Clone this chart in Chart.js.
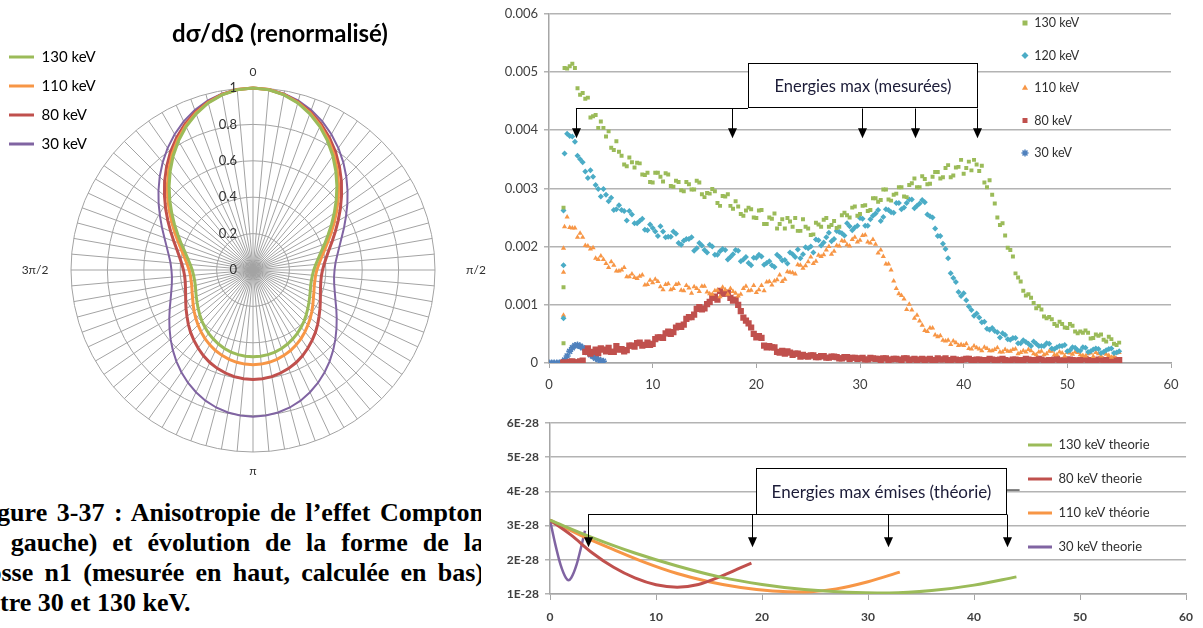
<!DOCTYPE html>
<html>
<head>
<meta charset="utf-8">
<script src="https://cdn.jsdelivr.net/npm/chart.js@4.4.0/dist/chart.umd.min.js"></script>
<style>
  body { margin: 0; width: 1203px; height: 628px; overflow: hidden; background: #fff; position: relative; }
  canvas { position: absolute; }
  #polar { left: 0; top: 0; }
  #counts { left: 490px; top: 0; }
  #theory { left: 490px; top: 400px; }
  #caption { position: absolute; left: 0; top: 498px; width: 481px; height: 130px; overflow: hidden; }
  #caption p { margin: 0; position: relative; left: -26px; width: 510px; white-space: nowrap;
               font: bold 26px/30px "Liberation Serif", "Times New Roman", serif; color: #000; }
  #caption p.j { white-space: normal; text-align: justify; text-align-last: justify; }
</style>
</head>
<body>
<canvas id="polar" width="490" height="480"></canvas>
<canvas id="counts" width="713" height="400"></canvas>
<canvas id="theory" width="713" height="228"></canvas>
<div id="caption">
  <p class="j">Figure 3-37 : Anisotropie de l’effet Compton</p>
  <p class="j">(à gauche) et évolution de la forme de la</p>
  <p class="j">bosse n1 (mesurée en haut, calculée en bas)</p>
  <p>entre 30 et 130 keV.</p>
</div>
<script>
// ---- polar plot: dσ/dΩ renormalised, one value per 5° spoke (0 at top, clockwise)
const quarterLabels = ['0', 'π/2', 'π', '3π/2'];
const spokes = Array.from({length: 72}, (_, i) => i % 18 === 0 ? quarterLabels[i / 18] : '');

const ks130 = [1, .994, .977, .950, .913, .869, .819, .765, .708, .652, .597, .545, .498, .455, .419, .388, .364, .346, .334, .328, .326, .328, .335, .344, .355, .368, .382, .397, .411, .425, .437, .449, .459, .467, .472, .476, .477,
  .476, .472, .467, .459, .449, .437, .425, .411, .397, .382, .368, .355, .344, .335, .328, .326, .328, .334, .346, .364, .388, .419, .455, .498, .545, .597, .652, .708, .765, .819, .869, .913, .950, .977, .994];
const ks110 = [1, .995, .979, .953, .918, .875, .827, .775, .720, .665, .612, .561, .514, .472, .435, .405, .381, .363, .351, .345, .345, .348, .356, .366, .380, .395, .411, .427, .444, .460, .475, .488, .499, .508, .515, .519, .520,
  .519, .515, .508, .499, .488, .475, .460, .444, .427, .411, .395, .380, .366, .356, .348, .345, .345, .351, .363, .381, .405, .435, .472, .514, .561, .612, .665, .720, .775, .827, .875, .918, .953, .979, .995];
const ks80 = [1, .995, .980, .956, .924, .885, .840, .791, .739, .687, .635, .586, .540, .499, .463, .433, .410, .393, .382, .377, .378, .384, .394, .408, .425, .443, .464, .485, .505, .525, .544, .561, .575, .586, .595, .600, .602,
  .600, .595, .586, .575, .561, .544, .525, .505, .485, .464, .443, .425, .408, .394, .384, .378, .377, .382, .393, .410, .433, .463, .499, .540, .586, .635, .687, .739, .791, .840, .885, .924, .956, .980, .995];
const ks30 = [1, .996, .983, .963, .935, .901, .861, .818, .772, .725, .678, .633, .590, .552, .518, .491, .470, .455, .448, .447, .453, .465, .482, .505, .531, .560, .591, .623, .655, .686, .715, .741, .764, .782, .795, .803, .806,
  .803, .795, .782, .764, .741, .715, .686, .655, .623, .591, .560, .531, .505, .482, .465, .453, .447, .448, .455, .470, .491, .518, .552, .590, .633, .678, .725, .772, .818, .861, .901, .935, .963, .983, .996];

// ---- measured spectra (counts, in units of 1e-5); first three points are the edge column at 1.4 keV
const keV = [1.4, 1.4, 1.4,
  1.5, 2, 2.5, 3, 3.5, 4, 4.5, 5, 5.5, 6, 6.5, 7, 7.5, 8, 8.5, 9, 9.5, 10,
  10.5, 11, 11.5, 12, 12.5, 13, 13.5, 14, 14.5, 15, 15.5, 16, 16.5, 17, 17.5, 18, 18.5, 19, 19.5, 20,
  20.5, 21, 21.5, 22, 22.5, 23, 23.5, 24, 24.5, 25, 25.5, 26, 26.5, 27, 27.5, 28, 28.5, 29, 29.5, 30,
  30.5, 31, 31.5, 32, 32.5, 33, 33.5, 34, 34.5, 35, 35.5, 36, 36.5, 37, 37.5, 38, 38.5, 39, 39.5, 40,
  40.5, 41, 41.5, 42, 42.5, 43, 43.5, 44, 44.5, 45, 45.5, 46, 46.5, 47, 47.5, 48, 48.5, 49, 49.5, 50,
  50.5, 51, 51.5, 52, 52.5, 53, 53.5, 54, 54.5, 55];
const meas130 = [34, 130, 267,
  507, 510, 507, 461, 454, 422, 426, 415, 389, 370, 381, 356, 338, 345, 344, 324, 327, 310,
  327, 312, 324, 303, 311, 295, 307, 298, 310, 285, 291, 295, 270, 286, 270, 278, 256, 262, 264, 249,
  263, 239, 248, 231, 247, 249, 234, 227, 247, 231, 221, 238, 246, 234, 244, 234, 258, 250, 269, 256,
  271, 263, 283, 280, 298, 279, 291, 302, 285, 309, 302, 321, 307, 320, 328, 319, 340, 322, 337, 325,
  346, 349, 330, 310, 314, 274, 237, 219, 194, 154, 140, 116, 112, 94, 92, 77, 75, 64, 67, 60,
  64, 51, 52, 52, 43, 47, 40, 45, 33, 35];
const meas120 = [77, 168, 262,
  360, 390, 380, 350, 329, 331, 306, 286, 289, 284, 264, 263, 245, 255, 240, 248, 228, 232,
  218, 226, 217, 226, 206, 210, 213, 193, 206, 194, 203, 186, 192, 194, 182, 194, 175, 182, 168, 181,
  183, 172, 168, 186, 176, 171, 187, 195, 187, 197, 190, 211, 207, 224, 213, 225, 219, 235, 233, 249,
  236, 247, 257, 244, 264, 259, 275, 264, 275, 281, 270, 280, 255, 250, 218, 205, 180, 146, 122, 120,
  97, 81, 78, 71, 57, 55, 44, 48, 40, 43, 34, 36, 29, 33, 29, 34, 25, 27, 29, 20,
  27, 22, 27, 19, 23, 24, 19, 24, 17, 20];
const meas110 = [82, 156, 197,
  234, 233, 232, 223, 202, 196, 180, 184, 171, 174, 158, 160, 148, 153, 145, 151, 135, 138,
  140, 126, 136, 128, 136, 124, 129, 131, 123, 132, 119, 124, 114, 126, 128, 120, 118, 132, 125, 121,
  133, 139, 134, 143, 140, 157, 155, 169, 163, 174, 171, 185, 186, 200, 192, 201, 209, 201, 216, 211,
  220, 206, 204, 194, 170, 160, 128, 116, 92, 91, 82, 65, 54, 60, 45, 39, 39, 38, 30, 30,
  25, 29, 24, 27, 21, 23, 19, 23, 20, 24, 18, 19, 21, 14, 20, 16, 20, 14, 17, 18,
  15, 18, 13, 16, 11, 16, 17, 13, 12, 18];
const meas80 = [0, 1, 0,
  0, 2, 1, 3, 19, 16, 23, 25, 20, 19, 29, 24, 22, 30, 34, 30, 35, 33,
  44, 43, 54, 53, 64, 66, 79, 83, 96, 94, 105, 114, 124, 119, 112, 109, 89, 73, 61, 44,
  43, 27, 27, 19, 21, 20, 14, 16, 14, 11, 13, 10, 12, 9, 11, 8, 10, 7, 9, 8,
  6, 9, 7, 5, 8, 6, 7, 5, 8, 6, 4, 7, 6, 5, 8, 6, 4, 7, 5, 6,
  7, 4, 6, 5, 7, 4, 6, 5, 3, 6, 5, 7, 4, 5, 6, 3, 5, 7, 4, 6,
  5, 4, 6, 5, 3, 6, 5, 4, 6, 5];

// second pass of readings, between the channels above
const keVb = [1.75, 2.25, 2.75, 3.25, 3.75, 4.25, 4.75, 5.25, 5.75, 6.25, 6.75, 7.25, 7.75, 8.25, 8.75, 9.25, 9.75, 10.25, 10.75,
  11.25, 11.75, 12.25, 12.75, 13.25, 13.75, 14.25, 14.75, 15.25, 15.75, 16.25, 16.75, 17.25, 17.75, 18.25, 18.75, 19.25, 19.75, 20.25, 20.75,
  21.25, 21.75, 22.25, 22.75, 23.25, 23.75, 24.25, 24.75, 25.25, 25.75, 26.25, 26.75, 27.25, 27.75, 28.25, 28.75, 29.25, 29.75, 30.25, 30.75,
  31.25, 31.75, 32.25, 32.75, 33.25, 33.75, 34.25, 34.75, 35.25, 35.75, 36.25, 36.75, 37.25, 37.75, 38.25, 38.75, 39.25, 39.75, 40.25, 40.75,
  41.25, 41.75, 42.25, 42.75, 43.25, 43.75, 44.25, 44.75, 45.25, 45.75, 46.25, 46.75, 47.25, 47.75, 48.25, 48.75, 49.25, 49.75, 50.25, 50.75,
  51.25, 51.75, 52.25, 52.75, 53.25, 53.75, 54.25, 54.75];
const meas130b = [506, 514, 472, 464, 456, 424, 404, 404, 398, 366, 363, 341, 353, 336, 343, 323, 311, 327, 320,
  326, 304, 313, 297, 311, 298, 313, 290, 292, 299, 275, 287, 290, 265, 269, 253, 267, 250, 262, 239,
  250, 257, 239, 231, 243, 249, 227, 234, 220, 241, 234, 249, 237, 232, 254, 254, 267, 253, 270, 261,
  283, 277, 298, 281, 289, 302, 286, 306, 317, 302, 316, 308, 328, 317, 335, 319, 336, 349, 335, 331,
  341, 339, 302, 289, 250, 240, 198, 183, 147, 124, 118, 103, 98, 80, 79, 67, 71, 61, 67, 54,
  54, 56, 42, 49, 49, 37, 41, 31];
const meas120b = [394, 389, 356, 345, 318, 320, 299, 299, 278, 263, 271, 261, 261, 240, 244, 229, 238, 226, 235,
  216, 217, 222, 203, 213, 216, 197, 202, 190, 200, 186, 196, 178, 187, 193, 178, 172, 181, 186, 169,
  175, 165, 182, 177, 190, 182, 180, 199, 200, 212, 202, 216, 209, 227, 223, 240, 228, 236, 248, 236,
  253, 263, 251, 263, 258, 275, 267, 281, 266, 274, 276, 252, 231, 218, 196, 154, 139, 115, 108, 91,
  85, 70, 59, 60, 53, 51, 41, 43, 34, 39, 33, 37, 29, 29, 33, 24, 29, 31, 22, 26,
  21, 26, 20, 25, 17, 22, 25, 18];
const meas110b = [251, 232, 216, 216, 201, 198, 178, 178, 164, 168, 158, 164, 148, 147, 149, 134, 142, 144, 131,
  135, 126, 135, 125, 133, 120, 128, 132, 122, 118, 125, 130, 118, 123, 115, 128, 124, 133, 126, 124,
  140, 141, 151, 144, 156, 153, 168, 167, 182, 175, 183, 194, 187, 202, 210, 203, 212, 208, 219, 208,
  212, 189, 183, 170, 141, 119, 110, 101, 77, 72, 56, 60, 48, 47, 38, 32, 35, 32, 33, 24,
  26, 21, 25, 21, 26, 19, 20, 23, 16, 21, 23, 16, 19, 14, 20, 14, 19, 12, 17, 19,
  14, 12, 17, 18, 12, 15, 10, 17];
const meas80b = [0, 3, 1, 4, 25, 19, 17, 23, 26, 19, 23, 20, 30, 28, 35, 31, 31, 41, 44,
  51, 50, 61, 62, 76, 79, 93, 92, 101, 112, 109, 119, 121, 107, 100, 78, 68, 50, 46, 30,
  29, 27, 18, 16, 18, 16, 11, 12, 13, 10, 12, 9, 11, 10, 8, 10, 9, 7, 9, 6, 8,
  7, 8, 5, 7, 6, 8, 5, 7, 6, 4, 7, 5, 6, 8, 5, 6, 4, 7, 5, 6,
  5, 3, 6, 5, 7, 4, 6, 5, 4, 6, 5, 7, 4, 5, 6, 4, 5, 6, 4, 5,
  7, 5, 4, 6, 5, 4, 5];
const lowKeV = [0, 0.25, 0.5, 0.75, 1, 1.25, 1.5, 1.75, 2, 2.25, 2.5, 2.75, 3, 3.25, 3.5, 3.75, 4, 4.25, 4.5, 4.75, 5, 5.25];
const meas30 = [0, 0, 0, 0, 0, 1, 5, 12, 20, 26, 30, 31, 29, 26, 22, 18, 14, 11, 8, 6, 4, 3];
const measuredMaxKeV = [2.6, 17.7, 30.2, 35.3, 41.3];

// ---- theoretical curves (units of 1E-28)
const thE130 = [0, 4, 8, 12, 16, 20, 24, 28, 32, 36, 40, 44];
const th130 = [3.16, 2.65, 2.2, 1.82, 1.5, 1.28, 1.13, 1.05, 1.03, 1.1, 1.26, 1.5];
const thE80 = [0, 2, 4, 6, 8, 10, 12, 14, 16, 18, 19];
const th80 = [3.16, 2.72, 2.2, 1.78, 1.47, 1.27, 1.2, 1.28, 1.5, 1.77, 1.9];
const thE110 = [0, 3, 6, 9, 12, 15, 18, 21, 24, 27, 30, 33];
const th110 = [3.16, 2.7, 2.3, 1.92, 1.6, 1.36, 1.19, 1.09, 1.06, 1.15, 1.36, 1.64];
const thE30 = [0, 0.5, 1, 1.5, 1.75, 2, 2.5, 3, 3.3];
const th30 = [3.16, 2.45, 1.85, 1.47, 1.4, 1.47, 1.85, 2.45, 2.85];
const theoryMaxKeV = [3.6, 19.1, 31.9, 43.1];

const GREEN = '#9BBB59', ORANGE = '#F79646', RED = '#C0504D', PURPLE = '#8064A2', AQUA = '#4BACC6', BLUE = '#4F81BD';
Chart.defaults.font.family = 'Lato';
Chart.defaults.color = '#404040';

const pts = (xs, ys, k) => xs.map((x, i) => ({x: x, y: ys[i] * k}));
const lineLegend = chart => Chart.defaults.plugins.legend.labels.generateLabels(chart).map(l => Object.assign(l, {lineWidth: 0}));

// moves legend / title boxes where the original figure has them
const placeBoxes = {
  id: 'placeBoxes',
  beforeDraw(chart, args, opts) {
    if (opts.legend && chart.legend) {
      chart.legend.left = opts.legend[0];
      chart.legend.top = opts.legend[1];
      chart.legend.bottom = opts.legend[1] + 1000;
    }
    if (opts.titleX !== undefined && chart.titleBlock) {
      const w = chart.titleBlock.right - chart.titleBlock.left;
      chart.titleBlock.left = opts.titleX - w / 2;
      chart.titleBlock.right = opts.titleX + w / 2;
    }
  }
};

// text box with the arrows pointing at the max energies
const maxMarks = {
  id: 'maxMarks',
  afterDatasetsDraw(chart, args, o) {
    if (!o.arrows) return;
    const {ctx, scales: {x, y}} = chart;
    const px = v => x.getPixelForValue(v), py = v => y.getPixelForValue(v);
    ctx.save();
    ctx.strokeStyle = '#000';
    ctx.fillStyle = '#000';
    ctx.lineWidth = 1;
    const barY = Math.round(py(o.barY)) + 0.5, tip = py(o.tipY);
    ctx.beginPath();
    ctx.moveTo(px(o.arrows[0]), barY);
    ctx.lineTo(px(o.barEnd), barY);
    if (o.stub) {
      ctx.moveTo(px(o.box[1]), py(o.stub[1]));
      ctx.lineTo(px(o.stub[0]), py(o.stub[1]));
    }
    ctx.stroke();
    o.arrows.forEach(e => {
      const X = Math.round(px(e)) + 0.5;
      ctx.beginPath();
      ctx.moveTo(X, barY);
      ctx.lineTo(X, tip - 9);
      ctx.stroke();
      ctx.beginPath();
      ctx.moveTo(X - 4.5, tip - 10);
      ctx.lineTo(X + 4.5, tip - 10);
      ctx.lineTo(X, tip);
      ctx.closePath();
      ctx.fill();
    });
    const bx = Math.round(px(o.box[0])) + 0.5, bw = Math.round(px(o.box[1]) - px(o.box[0]));
    const by = Math.round(py(o.box[3])) + 0.5, bh = Math.round(py(o.box[2]) - py(o.box[3]));
    ctx.fillStyle = '#fff';
    ctx.fillRect(bx, by, bw, bh);
    ctx.strokeRect(bx, by, bw, bh);
    ctx.fillStyle = '#1c1c38';
    ctx.font = o.font;
    ctx.textAlign = 'center';
    ctx.textBaseline = 'middle';
    ctx.fillText(o.text, bx + bw / 2, by + bh / 2 + 1);
    ctx.restore();
  }
};

// radial tick labels and the 0, π/2, π, 3π/2 labels of the polar plot
const polarText = {
  id: 'polarText',
  afterDraw(chart) {
    const r = chart.scales.r, ctx = chart.ctx;
    if (!r) return;
    const gaps = [16, 41, 19, 36];
    ctx.save();
    ctx.fillStyle = '#303030';
    ctx.textBaseline = 'middle';
    ctx.font = '13px Lato';
    ctx.textAlign = 'right';
    r.ticks.forEach(t => ctx.fillText(String(t.value), r.xCenter - 16, r.yCenter - r.getDistanceFromCenterForValue(t.value)));
    ctx.font = '12px Lato';
    ctx.textAlign = 'center';
    spokes.forEach((lab, i) => {
      if (!lab) return;
      const p = r.getPointPosition(i, r.drawingArea + gaps[i / 18]);
      ctx.fillText(lab, p.x, p.y);
    });
    ctx.restore();
  }
};

const radarSet = (label, data, color, width) => ({
  label: label, data: data, borderColor: color, backgroundColor: color,
  borderWidth: width, pointRadius: 0, fill: false, tension: 0
});

new Chart(document.getElementById('polar'), {
  type: 'radar',
  data: {
    labels: spokes,
    datasets: [
      radarSet('130 keV', ks130, GREEN, 3),
      radarSet('110 keV', ks110, ORANGE, 3),
      radarSet('80 keV', ks80, RED, 3),
      radarSet('30 keV', ks30, PURPLE, 2)
    ]
  },
  options: {
    responsive: false,
    animation: false,
    layout: { padding: { left: 71, right: 55, top: 0, bottom: 28 } },
    scales: {
      r: {
        min: 0, max: 1,
        ticks: { stepSize: 0.2, display: false },
        grid: { circular: true, color: '#a3a3a3' },
        angleLines: { color: '#a3a3a3' },
        pointLabels: { display: false }
      }
    },
    plugins: {
      title: {
        display: true, text: 'dσ/dΩ (renormalisé)', color: '#000',
        font: { family: 'Lato', size: 24, weight: 'bold' },
        padding: { top: 19.6, bottom: 39.6 }
      },
      legend: {
        position: 'chartArea', align: 'start',
        labels: { boxWidth: 25, boxHeight: 3, padding: 14, color: '#000', font: { size: 15 }, generateLabels: lineLegend }
      },
      tooltip: { enabled: false },
      placeBoxes: { legend: [-5, 35.5], titleX: 280 }
    }
  },
  plugins: [placeBoxes, polarText]
});

const scatterSet = (label, parts, color, style, radius, bw) => ({
  label: label, data: parts.flatMap(p => pts(p[0], p[1], 1e-5)), pointStyle: style, pointRadius: radius,
  backgroundColor: color, borderColor: color, borderWidth: bw
});

new Chart(document.getElementById('counts'), {
  type: 'scatter',
  data: {
    datasets: [
      scatterSet('130 keV', [[keV, meas130], [keVb, meas130b]], GREEN, 'rect', 2.8, 0),
      scatterSet('120 keV', [[keV, meas120], [keVb, meas120b]], AQUA, 'rectRot', 3, 0),
      scatterSet('110 keV', [[keV, meas110], [keVb, meas110b]], ORANGE, 'triangle', 3, 0),
      scatterSet('80 keV', [[keV, meas80], [keVb, meas80b]], RED, 'rect', 4.4, 0),
      scatterSet('30 keV', [[lowKeV, meas30]], BLUE, 'star', 3.5, 1.5)
    ]
  },
  options: {
    responsive: false,
    animation: false,
    layout: { padding: { left: 0, right: 32, top: 13, bottom: 0 } },
    scales: {
      x: {
        type: 'linear', min: 0, max: 60,
        ticks: { stepSize: 10, padding: 9, font: { size: 13 } },
        grid: { drawOnChartArea: false, tickLength: 5, color: '#a6a6a6' },
        border: { color: '#a6a6a6', width: 1.5 },
        afterFit: s => { s.height = 37; }
      },
      y: {
        min: 0, max: 0.006,
        ticks: { stepSize: 0.001, padding: 6, font: { size: 13 }, callback: v => v === 0 ? '0' : v.toFixed(3) },
        grid: { color: '#b3b3b3', lineWidth: 1.5, tickLength: 5 },
        border: { color: '#a6a6a6', width: 1.5 },
        afterFit: s => { s.width = 59; }
      }
    },
    plugins: {
      legend: {
        position: 'chartArea', align: 'start',
        labels: { usePointStyle: true, boxWidth: 6, boxHeight: 5, padding: 20, color: '#303030', font: { size: 12.5 } }
      },
      tooltip: { enabled: false },
      placeBoxes: { legend: [512, -3.25] },
      maxMarks: {
        arrows: measuredMaxKeV, barY: 0.00439, barEnd: 19.2, tipY: 0.00386,
        box: [19.2, 41.3, 0.00441, 0.00516], text: 'Energies max (mesurées)', font: '16.5px Lato'
      }
    }
  },
  plugins: [placeBoxes, maxMarks]
});

const theorySet = (label, xs, ys, color, width) => ({
  label: label, data: pts(xs, ys, 1), showLine: true, borderColor: color, backgroundColor: color,
  borderWidth: width, pointRadius: 0, cubicInterpolationMode: 'monotone'
});

new Chart(document.getElementById('theory'), {
  type: 'scatter',
  data: {
    datasets: [
      theorySet('130 keV theorie', thE130, th130, GREEN, 3),
      theorySet('80 keV theorie', thE80, th80, RED, 3),
      theorySet('110 keV théorie', thE110, th110, ORANGE, 3),
      theorySet('30 keV theorie', thE30, th30, PURPLE, 2.5)
    ]
  },
  options: {
    responsive: false,
    animation: false,
    layout: { padding: { left: 0, right: 16, top: 23, bottom: 0 } },
    scales: {
      x: {
        type: 'linear', min: 0, max: 60,
        ticks: { stepSize: 10, padding: 10, font: { size: 12, weight: 'bold' } },
        grid: { drawOnChartArea: false, tickLength: 6, color: '#a6a6a6' },
        border: { color: '#a6a6a6', width: 1.5 },
        afterFit: s => { s.height = 34; }
      },
      y: {
        min: 1, max: 6,
        ticks: { stepSize: 1, padding: 6, font: { size: 12, weight: 'bold' }, callback: v => v + 'E-28' },
        grid: { color: '#b3b3b3', lineWidth: 1.5, tickLength: 5 },
        border: { color: '#a6a6a6', width: 1.5 },
        afterFit: s => { s.width = 60; }
      }
    },
    plugins: {
      legend: {
        position: 'chartArea', align: 'start',
        labels: { boxWidth: 24, boxHeight: 3, padding: 21, color: '#303030', font: { size: 13 }, generateLabels: lineLegend }
      },
      tooltip: { enabled: false },
      placeBoxes: { legend: [517, 17.5] },
      maxMarks: {
        arrows: theoryMaxKeV, barY: 3.35, barEnd: 20.5, tipY: 2.37,
        box: [19.4, 43.0, 3.35, 4.69], stub: [44.3, 4.04],
        text: 'Energies max émises (théorie)', font: '17px Lato'
      }
    }
  },
  plugins: [placeBoxes, maxMarks]
});
</script>
</body>
</html>
